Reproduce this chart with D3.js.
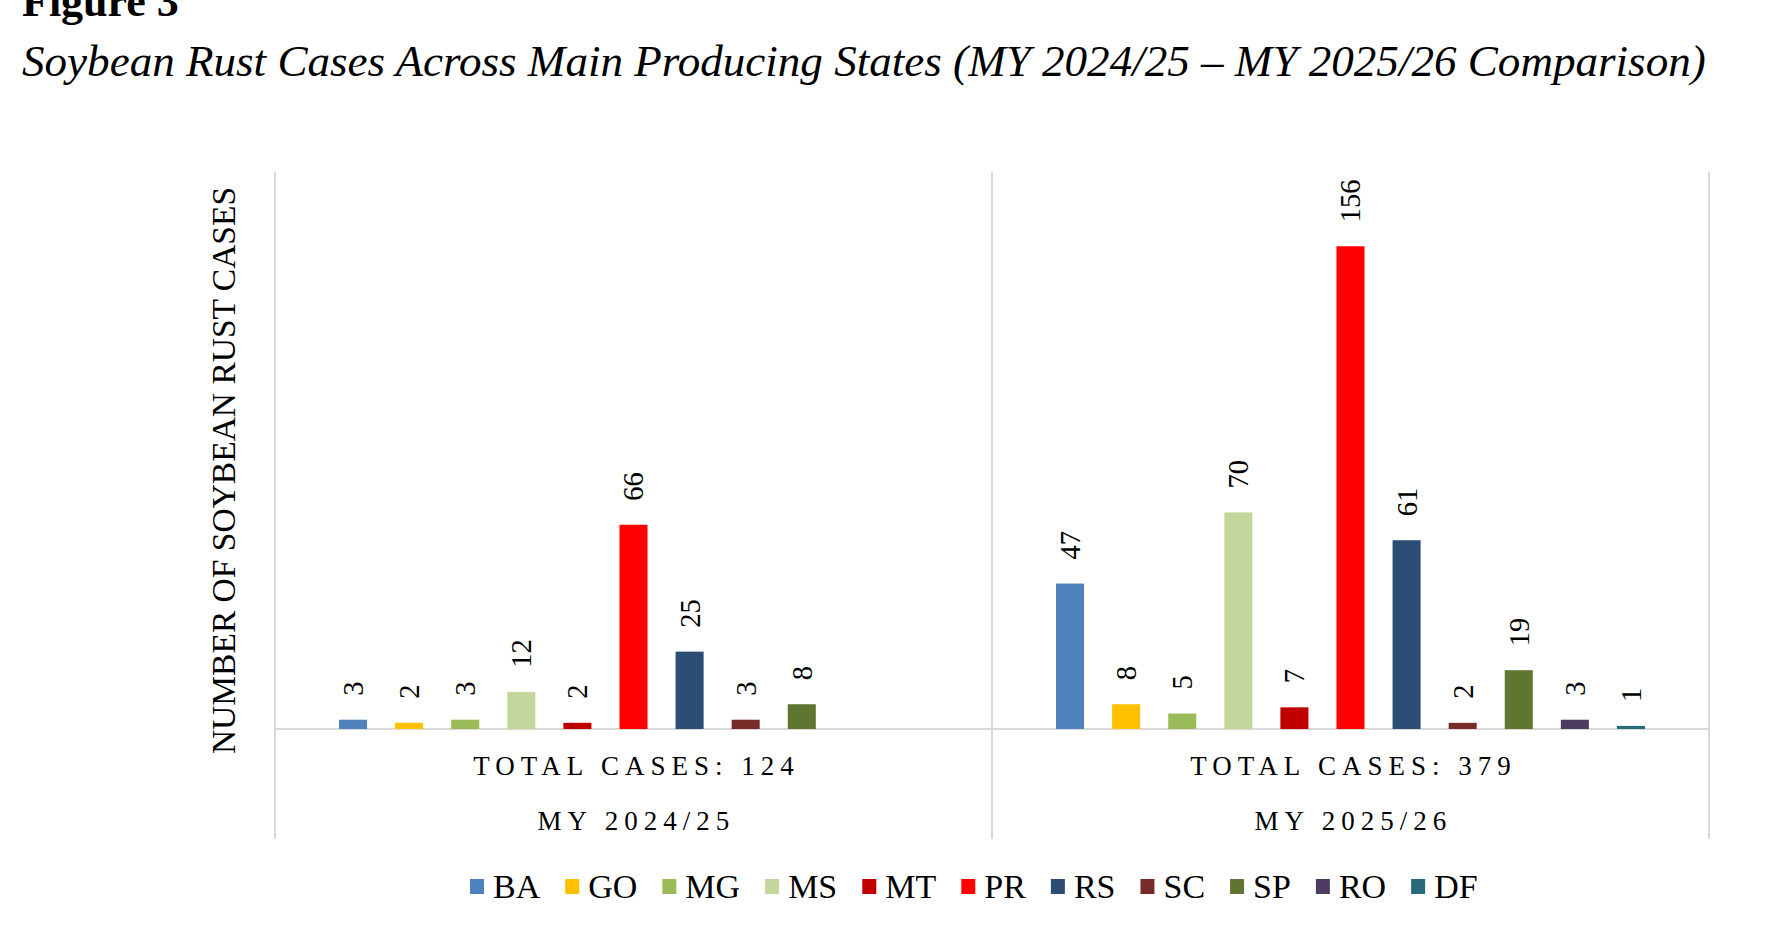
<!DOCTYPE html>
<meta charset="utf-8">
<style>
    body { margin: 0; background: #fff; }
    text { font-family: "Liberation Serif", "Times New Roman", serif; fill: #000; }
    .grid { stroke: #d9d9d9; stroke-width: 2; }
</style>
<body>
    <script src="https://cdn.jsdelivr.net/npm/d3@7"></script>
    <script>
        var states = ['BA','GO','MG','MS','MT','PR','RS','SC','SP','RO','DF'],
            colors = ['#4f81bd','#ffc000','#9bbb59','#c3d69b','#c00000','#ff0000',
                      '#2c4d75','#772c2a','#5f7530','#4d3b62','#276a7c'],
            years = ['MY 2024/25','MY 2025/26'],
            cases_2425 = [3, 2, 3, 12, 2, 66, 25, 3, 8, null, null],
            cases_2526 = [47, 8, 5, 70, 7, 156, 61, 2, 19, 3, 1];

        var width = 1772,
            height = 944,
            plotLeft = 275, plotRight = 1709,
            plotTop = 172, base = 729, plotBottom = 839;

        var svg = d3.select('body').append('svg')
            .attr('width', width)
            .attr('height', height);

        svg.append('rect').attr('width', width).attr('height', height).attr('fill', '#fff');

        // titles (the reference crops "Figure 3" at the top edge)
        svg.append('text')
            .attr('x', 22).attr('y', 16)
            .style('font-size', '44px').style('font-weight', 'bold')
            .text('Figure 3');

        var sub = svg.append('text')
            .attr('x', 22).attr('y', 76)
            .style('font-size', '44px').style('font-style', 'italic')
            .text('Soybean Rust Cases Across Main Producing States (MY 2024/25 \u2013 MY 2025/26 Comparison)');
        var subW = sub.node().getComputedTextLength();
        sub.style('font-size', (44 * 1684 / subW) + 'px');

        var series = [cases_2425, cases_2526];

        var x0 = d3.scaleBand().domain(years).range([plotLeft, plotRight]).padding(0);
        var x1 = d3.scaleBand().domain(states)
            .range([50, x0.bandwidth() - 50])
            .paddingInner(0.5).paddingOuter(0.25);
        var y = d3.scaleLinear().domain([0, 180]).range([base, plotTop]);
        var color = d3.scaleOrdinal().domain(states).range(colors);

        // frame lines
        svg.append('line').attr('class', 'grid')
            .attr('x1', plotLeft).attr('x2', plotRight).attr('y1', base).attr('y2', base);
        var edges = [plotLeft].concat(years.map(function(d) { return x0(d) + x0.bandwidth(); }));
        svg.selectAll('line.edge')
            .data(edges).enter()
            .append('line')
            .attr('class', 'grid edge')
            .attr('x1', function(d) { return d; })
            .attr('x2', function(d) { return d; })
            .attr('y1', plotTop).attr('y2', plotBottom);

        var groups = svg.selectAll('g.year')
            .data(years).enter()
            .append('g')
            .attr('class', 'year')
            .attr('transform', function(d) { return 'translate(' + x0(d) + ',0)'; });

        groups.each(function(yr, gi) {
            var g = d3.select(this);
            var rows = states.map(function(s, i) { return {state: s, value: series[gi][i]}; })
                .filter(function(d) { return d.value != null; });

            g.selectAll('rect')
                .data(rows).enter()
                .append('rect')
                .attr('x', function(d) { return x1(d.state); })
                .attr('width', x1.bandwidth())
                .attr('y', function(d) { return y(d.value); })
                .attr('height', function(d) { return base - y(d.value); })
                .attr('fill', function(d) { return color(d.state); });

            g.selectAll('text.val')
                .data(rows).enter()
                .append('text')
                .attr('class', 'val')
                .attr('transform', function(d) {
                    return 'translate(' + (x1(d.state) + x1.bandwidth() / 2) + ',' +
                        (y(d.value) - 24) + ') rotate(-90)';
                })
                .attr('dy', '0.35em')
                .style('font-size', '28.5px')
                .text(function(d) { return d.value; });

            var total = d3.sum(series[gi]);
            g.append('text')
                .attr('x', x0.bandwidth() / 2 + 3).attr('y', 775)
                .attr('text-anchor', 'middle')
                .style('font-size', '27px').style('letter-spacing', '6px')
                .text('TOTAL CASES: ' + total);

            g.append('text')
                .attr('x', x0.bandwidth() / 2 + 3).attr('y', 830)
                .attr('text-anchor', 'middle')
                .style('font-size', '27px').style('letter-spacing', '6px')
                .text(yr);
        });

        // y axis title
        svg.append('text')
            .attr('transform', 'translate(223,' + ((186 + 755) / 2) + ') rotate(-90)')
            .attr('text-anchor', 'middle')
            .attr('dy', '0.35em')
            .style('font-size', '33.5px')
            .text('NUMBER OF SOYBEAN RUST CASES');

        // legend
        var lx = 470, ly = 887;
        var legend = svg.append('g').attr('class', 'legend');
        states.forEach(function(s) {
            legend.append('rect')
                .attr('x', lx).attr('y', ly - 8)
                .attr('width', 14).attr('height', 15)
                .attr('fill', color(s));
            var t = legend.append('text')
                .attr('x', lx + 23).attr('y', ly + 11)
                .style('font-size', '34px')
                .text(s);
            lx += 23 + t.node().getComputedTextLength() + 25;
        });
    </script>
</body>
